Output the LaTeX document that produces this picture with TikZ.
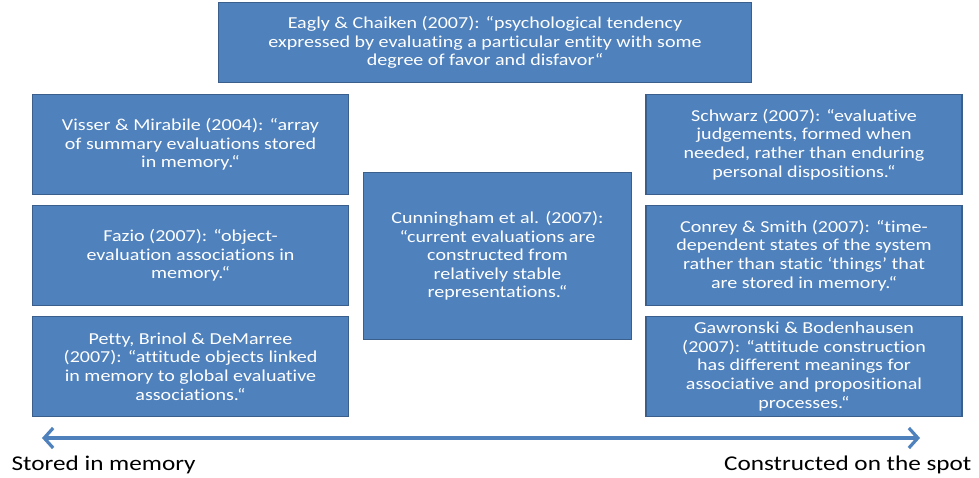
\documentclass[tikz,border=0pt]{standalone}
\usepackage{fontspec}
\setmainfont{Carlito}[FakeStretch=1.2,Ligatures=NoCommon]
\usetikzlibrary{arrows.meta}
\definecolor{boxblue}{HTML}{4F81BD}
\definecolor{boxedge}{HTML}{3A5F8C}
\begin{document}
\begin{tikzpicture}[x=1pt,y=-1pt]
            \tikzstyle{quote}=[rectangle,fill=boxblue,draw=boxedge,line width=1.2pt,text=white,align=center,inner sep=0pt,font=\fontsize{16.7}{18.6}\selectfont]
            \tikzstyle{side}=[quote,minimum width=316pt,minimum height=100pt]
            \tikzstyle{pole}=[font=\fontsize{21}{22}\selectfont]

            \useasboundingbox (0,0) rectangle (979,478);

            \node[quote,minimum width=533pt,minimum height=80pt] (eagly) at (485,42.5)
              {Eagly \& Chaiken (2007): “psychological tendency\\expressed by evaluating a particular entity with some\\degree of favor and disfavor“};

            \node[side] (visser) at (190.5,144.5)
              {Visser \& Mirabile (2004): “array\\of summary evaluations stored\\in memory.“};
            \node[side] (fazio) at (190.5,255.5)
              {Fazio (2007): “object-\\evaluation associations in\\memory.“};
            \node[side] (petty) at (190.5,366.5)
              {Petty, Brinol \& DeMarree\\(2007): “attitude objects linked\\in memory to global evaluative\\associations.“};

            \node[quote,minimum width=268pt,minimum height=167pt] (cunningham) at (497.5,256)
              {Cunningham et al. (2007):\\“current evaluations are\\constructed from\\relatively stable\\representations.“};

            \node[side] (schwarz) at (804,144.5)
              {Schwarz (2007): “evaluative\\judgements, formed when\\needed, rather than enduring\\personal dispositions.“};
            \node[side] (conrey) at (804,255.5)
              {Conrey \& Smith (2007): “time-\\dependent states of the system\\rather than static ‘things’ that\\are stored in memory.“};
            \node[side] (gawronski) at (804,366.5)
              {Gawronski \& Bodenhausen\\(2007): “attitude construction\\has different meanings for\\associative and propositional\\processes.“};

            \coordinate (memory) at (42,438);
            \coordinate (spot) at (920,438);
            \draw[boxblue,line width=3.2pt,{Straight Barb[length=9pt,width=20pt]}-{Straight Barb[length=9pt,width=20pt]}] (memory) -- (spot);

            \node[pole,anchor=west] (stored) at (8,465) {Stored in memory};
            \node[pole,anchor=east] (constructed) at (975,465) {Constructed on the spot};
        \end{tikzpicture}
\end{document}
